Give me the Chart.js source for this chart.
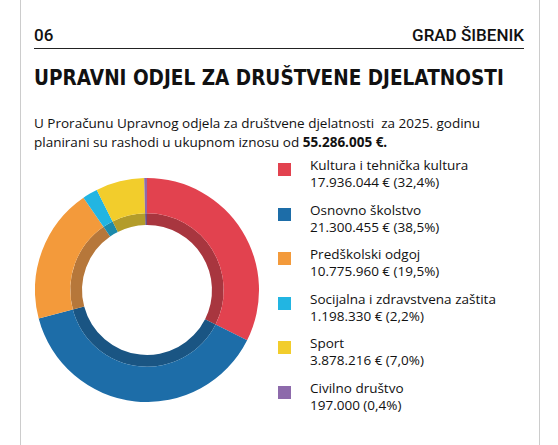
<!DOCTYPE html>
<html><head><meta charset="utf-8">
<script src="https://cdn.jsdelivr.net/npm/chart.js@4"></script>
<style>
body{margin:0;width:558px;height:445px;background:#fff;font-family:"Open Sans",sans-serif;color:#111;position:relative;overflow:hidden}
.frame{position:absolute;left:20px;top:0;width:518px;height:445px;border-left:1px solid #ccc;border-right:1px solid #ccc}
.hdr{position:absolute;top:25px;font-family:"Roboto";font-weight:500;font-size:17px}
.line{position:absolute;left:34px;width:490px;top:48px;border-top:1.5px solid #222}
.title{position:absolute;left:34px;top:66px;font-weight:bold;font-size:21px;font-family:"DejaVu Sans";white-space:nowrap;transform:scaleX(0.88);transform-origin:left}
.p{position:absolute;left:34px;top:114px;font-size:13.5px;line-height:19px;width:520px;white-space:nowrap}
#wrap{position:absolute;left:35px;top:178px;width:224px;height:224px}
.leg{position:absolute;left:278px;top:157px;font-size:13.5px;line-height:17px}
.item{position:relative;padding-left:32px;height:36px;margin-bottom:8.5px}
.sw{position:absolute;left:0;top:6px;width:13px;height:13px}
</style></head><body>
<div class="frame"></div>
<div class="hdr" style="left:34px">06</div>
<div class="hdr" style="right:34px">GRAD ŠIBENIK</div>
<div class="line"></div>
<div class="title">UPRAVNI ODJEL ZA DRUŠTVENE DJELATNOSTI</div>
<div class="p">U Proračunu Upravnog odjela za društvene djelatnosti &nbsp;za 2025. godinu<br>planirani su rashodi u ukupnom iznosu od <b>55.286.005 €.</b></div>
<div id="wrap"><canvas id="c"></canvas></div>
<div class="leg" id="leg"></div>
<script>
const categories=["Kultura i tehnička kultura","Osnovno školstvo","Predškolski odgoj","Socijalna i zdravstvena zaštita","Sport","Civilno društvo"];
const amounts=["17.936.044 € (32,4%)","21.300.455 € (38,5%)","10.775.960 € (19,5%)","1.198.330 € (2,2%)","3.878.216 € (7,0%)","197.000 (0,4%)"];
const values=[32.4,38.5,19.5,2.2,7.0,0.4];
const colors=["#e2424f","#1d6da8","#f39a3b","#22b5e2","#f2cd2c","#8d6aab"];
const darkColors=["#a8363f","#1a5583","#b6773a","#1c8aab","#b39c2a","#6a5083"];
const leg=document.getElementById('leg');
categories.forEach((c,i)=>{leg.innerHTML+=`<div class="item"><div class="sw" style="background:${colors[i]}"></div>${c}<br>${amounts[i]}</div>`;});
new Chart(document.getElementById('c'),{type:'doughnut',
data:{labels:categories,datasets:[
{data:values,backgroundColor:colors,borderWidth:0,weight:3},
{data:values,backgroundColor:darkColors,borderWidth:0,weight:1}]},
options:{responsive:true,maintainAspectRatio:false,animation:false,cutout:'58%',
plugins:{legend:{display:false},tooltip:{enabled:false}}}});
</script>
</body></html>
